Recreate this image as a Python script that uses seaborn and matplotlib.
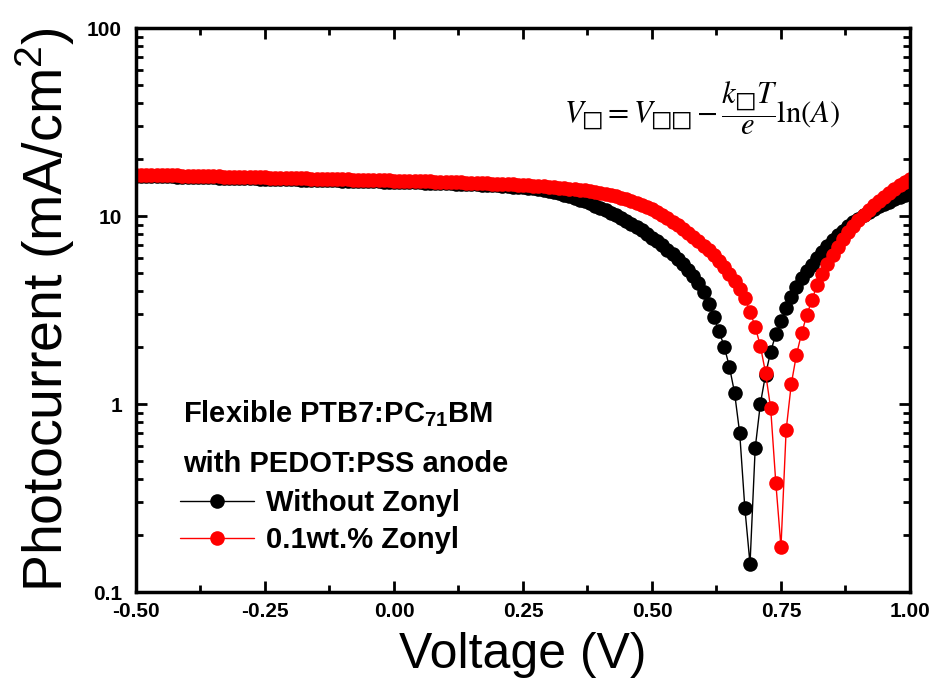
import numpy as np
import pandas as pd
import matplotlib
matplotlib.use("Agg")
import matplotlib.pyplot as plt
import seaborn as sns
from matplotlib.lines import Line2D
from matplotlib.ticker import MultipleLocator, LogLocator, NullFormatter

# ---------------- data ----------------
voltage = np.round(np.arange(-50, 101) / 100.0, 2)  # -0.50 ... 1.00 V, 0.01 V steps

without_zonyl = [
    16.40, 16.38, 16.35, 16.33, 16.30, 16.28, 16.25, 16.23, 16.20, 16.18,
    16.15, 16.13, 16.10, 16.08, 16.06, 16.03, 16.01, 15.98, 15.96, 15.94,
    15.91, 15.89, 15.87, 15.84, 15.82, 15.80, 15.77, 15.75, 15.73, 15.70,
    15.68, 15.66, 15.63, 15.61, 15.59, 15.56, 15.54, 15.52, 15.49, 15.47,
    15.45, 15.42, 15.40, 15.38, 15.35, 15.33, 15.31, 15.28, 15.26, 15.24,
    15.21, 15.19, 15.16, 15.14, 15.11, 15.09, 15.06, 15.03, 15.00, 14.97,
    14.94, 14.91, 14.88, 14.85, 14.81, 14.77, 14.73, 14.69, 14.64, 14.59,
    14.54, 14.48, 14.42, 14.35, 14.28, 14.20, 14.11, 14.01, 13.90, 13.78,
    13.60, 13.42, 13.22, 13.00, 12.76, 12.50, 12.23, 11.95, 11.66, 11.36,
    11.05, 10.73, 10.41, 10.08, 9.75, 9.41, 9.07, 8.73, 8.38, 8.03,
    7.68, 7.33, 6.98, 6.63, 6.28, 5.92, 5.55, 5.17, 4.78, 4.38,
    3.95, 3.40, 2.91, 2.44, 2.02, 1.58, 1.15, 0.70, 0.279, 0.141,
    0.581, 1.00, 1.43, 1.90, 2.35, 2.78, 3.23, 3.70, 4.18, 4.66,
    5.08, 5.52, 5.98, 6.46, 6.93, 7.41, 7.89, 8.36, 8.81, 9.25,
    9.68, 10.12, 10.52, 10.91, 11.27, 11.61, 11.94, 12.27, 12.59, 12.91,
    13.24,
]

with_zonyl = [
    16.62, 16.60, 16.57, 16.55, 16.53, 16.50, 16.48, 16.46, 16.43, 16.41,
    16.39, 16.36, 16.34, 16.32, 16.29, 16.27, 16.25, 16.22, 16.20, 16.18,
    16.15, 16.13, 16.11, 16.08, 16.06, 16.04, 16.01, 15.99, 15.97, 15.94,
    15.92, 15.90, 15.87, 15.85, 15.83, 15.80, 15.78, 15.76, 15.73, 15.71,
    15.69, 15.66, 15.64, 15.62, 15.59, 15.57, 15.55, 15.52, 15.50, 15.48,
    15.45, 15.43, 15.40, 15.38, 15.35, 15.33, 15.30, 15.28, 15.25, 15.22,
    15.19, 15.16, 15.13, 15.10, 15.07, 15.04, 15.00, 14.97, 14.93, 14.89,
    14.85, 14.81, 14.77, 14.72, 14.67, 14.62, 14.57, 14.51, 14.45, 14.39,
    14.32, 14.25, 14.17, 14.09, 14.00, 13.91, 13.81, 13.70, 13.58, 13.45,
    13.30, 13.14, 12.96, 12.76, 12.54, 12.30, 12.04, 11.76, 11.47, 11.18,
    10.88, 10.52, 10.14, 9.74, 9.33, 8.93, 8.53, 8.13, 7.74, 7.35,
    6.96, 6.57, 6.17, 5.77, 5.36, 4.94, 4.50, 4.10, 3.68, 3.10,
    2.58, 2.04, 1.47, 0.95, 0.38, 0.174, 0.727, 1.28, 1.83, 2.38,
    2.97, 3.57, 4.30, 4.92, 5.56, 6.21, 6.87, 7.53, 8.18, 8.83,
    9.48, 10.14, 10.79, 11.43, 12.05, 12.68, 13.30, 13.93, 14.55, 15.17,
    15.81,
]

series_names = ["Without Zonyl", "0.1wt.% Zonyl"]
series_colors = ["#000000", "#ff0000"]

x_ticks = [-0.50, -0.25, 0.00, 0.25, 0.50, 0.75, 1.00]
x_tick_labels = ["-0.50", "-0.25", "0.00", "0.25", "0.50", "0.75", "1.00"]
y_ticks = [0.1, 1, 10, 100]
y_tick_labels = ["0.1", "1", "10", "100"]

header_lines = ["Flexible PTB7:PC$_\\mathbf{71}$BM", "with PEDOT:PSS anode"]
equation = "$V_{\u25a1} = V_{\u25a1\u25a1} - \\dfrac{k_{\u25a1}T}{e}\\ln(A)$"

df = pd.concat([
    pd.DataFrame({"V": voltage, "J": without_zonyl, "sample": series_names[0]}),
    pd.DataFrame({"V": voltage, "J": with_zonyl, "sample": series_names[1]}),
], ignore_index=True)

# ---------------- style ----------------
sns.set_theme(style="ticks")
plt.rcParams["font.family"] = ["Liberation Sans", "DejaVu Sans"]
plt.rcParams["text.color"] = "black"
plt.rcParams["axes.labelcolor"] = "black"
plt.rcParams["xtick.color"] = "black"
plt.rcParams["ytick.color"] = "black"
plt.rcParams["mathtext.fontset"] = "custom"
plt.rcParams["mathtext.rm"] = "Liberation Sans"
plt.rcParams["mathtext.bf"] = "Liberation Sans:bold"
plt.rcParams["mathtext.it"] = "Liberation Sans:italic"

fig, ax = plt.subplots(figsize=(9.36, 6.97), dpi=100)
fig.subplots_adjust(left=0.1453, right=0.9722, top=0.9598, bottom=0.1506)

palette = dict(zip(series_names, series_colors))
sns.lineplot(data=df, x="V", y="J", hue="sample", hue_order=series_names,
             palette=palette, marker="o", markersize=10.5, markeredgewidth=0,
             linewidth=1, sort=False, estimator=None, ax=ax, legend=False)

ax.set_yscale("log")
ax.set_xlim(-0.5, 1.0)
ax.set_ylim(0.1, 100)

ax.set_xticks(x_ticks)
ax.set_xticklabels(x_tick_labels, fontsize=15, fontweight="bold")
ax.xaxis.set_minor_locator(MultipleLocator(0.125))
ax.set_yticks(y_ticks)
ax.set_yticklabels(y_tick_labels, fontsize=15, fontweight="bold")
ax.yaxis.set_minor_locator(LogLocator(base=10, subs=np.arange(2, 10)))
ax.yaxis.set_minor_formatter(NullFormatter())

ax.tick_params(which="both", direction="in", top=True, right=True,
               width=2, color="black")
ax.tick_params(axis="x", which="both", pad=7)
ax.tick_params(axis="y", which="both", pad=10)
ax.tick_params(which="major", length=8)
ax.tick_params(which="minor", length=5)
for sp in ax.spines.values():
    sp.set_linewidth(2.5)
    sp.set_color("black")

ax.set_xlabel("Voltage (V)", fontsize=36, labelpad=8)
ax.set_ylabel("Photocurrent (mA/cm$^2$)", fontsize=40, labelpad=7)

# header text above legend
fig.text(183 / 936, 1 - 422 / 697, header_lines[0], fontsize=21,
         fontweight="bold", va="baseline", ha="left")
fig.text(183 / 936, 1 - 472 / 697, header_lines[1], fontsize=21,
         fontweight="bold", va="baseline", ha="left")

handles = [Line2D([0], [0], color=c, lw=1, marker="o", markersize=10.5,
                  markeredgewidth=0) for c in series_colors]
leg = fig.legend(handles, series_names, loc="upper left",
                 bbox_to_anchor=(180 / 936, 1 - 489 / 697),
                 bbox_transform=fig.transFigure, frameon=False,
                 prop={"weight": "bold", "size": 21}, handlelength=2.55,
                 handletextpad=0.4, labelspacing=0.3, borderpad=0,
                 borderaxespad=0)

fig.text(702 / 936, 1 - 108 / 697, equation, fontsize=22, ha="center",
         va="center", math_fontfamily="stix")

fig.savefig("out.png", dpi=100)
